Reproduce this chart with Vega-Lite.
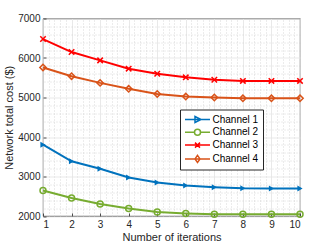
{
  "$schema": "https://vega.github.io/schema/vega-lite/v6.json",
  "width": 257,
  "height": 197.5,
  "autosize": "none",
  "padding": {"left": 43, "top": 18.5, "right": 32, "bottom": 33},
  "background": "white",
  "config": {
    "font": "Liberation Sans",
    "view": {"stroke": "#262626", "strokeWidth": 0.8},
    "axis": {
      "labelFontSize": 10,
      "labelColor": "#262626",
      "titleFontSize": 11,
      "titleFontWeight": "normal",
      "titleColor": "#262626",
      "domain": false,
      "gridColor": "#e3e3e3",
      "gridWidth": 0.8,
      "tickColor": "#262626",
      "tickWidth": 0.8
    }
  },
  "data": {
    "values": [
      {"iter": 1, "channel": "Channel 1", "cost": 3805},
      {"iter": 2, "channel": "Channel 1", "cost": 3385},
      {"iter": 3, "channel": "Channel 1", "cost": 3195},
      {"iter": 4, "channel": "Channel 1", "cost": 2975},
      {"iter": 5, "channel": "Channel 1", "cost": 2850},
      {"iter": 6, "channel": "Channel 1", "cost": 2770},
      {"iter": 7, "channel": "Channel 1", "cost": 2730},
      {"iter": 8, "channel": "Channel 1", "cost": 2700},
      {"iter": 9, "channel": "Channel 1", "cost": 2695},
      {"iter": 10, "channel": "Channel 1", "cost": 2695},
      {"iter": 1, "channel": "Channel 2", "cost": 2645},
      {"iter": 2, "channel": "Channel 2", "cost": 2455},
      {"iter": 3, "channel": "Channel 2", "cost": 2305},
      {"iter": 4, "channel": "Channel 2", "cost": 2190},
      {"iter": 5, "channel": "Channel 2", "cost": 2100},
      {"iter": 6, "channel": "Channel 2", "cost": 2065},
      {"iter": 7, "channel": "Channel 2", "cost": 2045},
      {"iter": 8, "channel": "Channel 2", "cost": 2045},
      {"iter": 9, "channel": "Channel 2", "cost": 2045},
      {"iter": 10, "channel": "Channel 2", "cost": 2045},
      {"iter": 1, "channel": "Channel 3", "cost": 6480},
      {"iter": 2, "channel": "Channel 3", "cost": 6150},
      {"iter": 3, "channel": "Channel 3", "cost": 5940},
      {"iter": 4, "channel": "Channel 3", "cost": 5730},
      {"iter": 5, "channel": "Channel 3", "cost": 5600},
      {"iter": 6, "channel": "Channel 3", "cost": 5510},
      {"iter": 7, "channel": "Channel 3", "cost": 5450},
      {"iter": 8, "channel": "Channel 3", "cost": 5420},
      {"iter": 9, "channel": "Channel 3", "cost": 5420},
      {"iter": 10, "channel": "Channel 3", "cost": 5420},
      {"iter": 1, "channel": "Channel 4", "cost": 5760},
      {"iter": 2, "channel": "Channel 4", "cost": 5540},
      {"iter": 3, "channel": "Channel 4", "cost": 5370},
      {"iter": 4, "channel": "Channel 4", "cost": 5220},
      {"iter": 5, "channel": "Channel 4", "cost": 5090},
      {"iter": 6, "channel": "Channel 4", "cost": 5025},
      {"iter": 7, "channel": "Channel 4", "cost": 5000},
      {"iter": 8, "channel": "Channel 4", "cost": 4980},
      {"iter": 9, "channel": "Channel 4", "cost": 4980},
      {"iter": 10, "channel": "Channel 4", "cost": 4980}
    ]
  },
  "layer": [
    {
      "mark": {"type": "point", "opacity": 0},
      "encoding": {
        "x": {
          "field": "iter", "type": "quantitative",
          "scale": {"domain": [1, 10], "nice": false},
          "axis": {
            "orient": "top", "title": null, "labels": false, "ticks": false, "domain": false,
            "grid": true, "gridDash": [1, 2], "gridColor": "#c8c8c8", "gridWidth": 0.7,
            "values": [1.2,1.4,1.6,1.8,2.2,2.4,2.6,2.8,3.2,3.4,3.6,3.8,4.2,4.4,4.6,4.8,5.2,5.4,5.6,5.8,6.2,6.4,6.6,6.8,7.2,7.4,7.6,7.8,8.2,8.4,8.6,8.8,9.2,9.4,9.6,9.8]
          }
        },
        "y": {
          "field": "cost", "type": "quantitative",
          "scale": {"domain": [2000, 7000], "nice": false},
          "axis": {
            "orient": "right", "title": null, "labels": false, "ticks": false, "domain": false,
            "grid": true, "gridDash": [1, 2], "gridColor": "#c8c8c8", "gridWidth": 0.7,
            "values": [2200,2400,2600,2800,3200,3400,3600,3800,4200,4400,4600,4800,5200,5400,5600,5800,6200,6400,6600,6800]
          }
        }
      }
    },
    {
      "mark": {"type": "line", "strokeWidth": 2},
      "encoding": {
        "x": {
          "field": "iter", "type": "quantitative",
          "scale": {"domain": [1, 10], "nice": false},
          "axis": {
            "orient": "bottom", "values": [1,2,3,4,5,6,7,8,9,10], "grid": true,
            "tickSize": -3, "labelPadding": 6, "title": "Number of iterations", "titlePadding": 2
          }
        },
        "y": {
          "field": "cost", "type": "quantitative",
          "scale": {"domain": [2000, 7000], "nice": false},
          "axis": {
            "orient": "left", "values": [2000,3000,4000,5000,6000,7000], "grid": true, "format": "d",
            "tickSize": -3, "labelPadding": 6, "title": "Network total cost ($)", "titlePadding": 3
          }
        },
        "color": {
          "field": "channel", "type": "nominal",
          "scale": {"domain": ["Channel 1","Channel 2","Channel 3","Channel 4"], "range": ["#0072BD","#77AC30","#FF0000","#D95319"]},
          "legend": {
            "orient": "none", "legendX": 137, "legendY": 91, "title": null,
            "padding": 4, "strokeColor": "#262626", "fillColor": "white", "cornerRadius": 0,
            "symbolSize": 100, "symbolOffset": 7.5, "labelOffset": 9, "rowPadding": 0.8,
            "labelFontSize": 10, "labelColor": "#000000", "symbolStrokeWidth": 1.5,
            "symbolFillColor": "transparent", "symbolOpacity": 1,
            "encode": {
              "symbols": {
                "update": {
                  "shape": {"signal": "datum.value === 'Channel 1' ? 'M-2.5,0L2.5,0M-0.5,-0.6L0.7,0L-0.5,0.6Z' : datum.value === 'Channel 2' ? 'M-2.5,0L-0.6,0M0.6,0L2.5,0M-0.6,0A0.6,0.6,0,1,1,0.6,0A0.6,0.6,0,1,1,-0.6,0' : datum.value === 'Channel 3' ? 'M-2.5,0L2.5,0M-0.5,-0.5L0.5,0.5M-0.5,0.5L0.5,-0.5' : 'M-2.5,0L2.5,0M0,-0.7L0.5,0L0,0.7L-0.5,0Z'"}
                }
              }
            }
          }
        }
      }
    },
    {
      "transform": [{"filter": "datum.channel === 'Channel 1'"}],
      "mark": {"type": "point", "shape": "triangle-right", "filled": true, "strokeWidth": 1, "size": 36, "opacity": 1, "color": "#0072BD"},
      "encoding": {
        "x": {"field": "iter", "type": "quantitative", "axis": null},
        "y": {"field": "cost", "type": "quantitative", "axis": null}
      }
    },
    {
      "transform": [{"filter": "datum.channel === 'Channel 2'"}],
      "mark": {"type": "point", "shape": "circle", "filled": false, "strokeWidth": 1.5, "size": 36, "opacity": 1, "color": "#77AC30"},
      "encoding": {
        "x": {"field": "iter", "type": "quantitative", "axis": null},
        "y": {"field": "cost", "type": "quantitative", "axis": null}
      }
    },
    {
      "transform": [{"filter": "datum.channel === 'Channel 3'"}],
      "mark": {"type": "point", "shape": "M-1,-1L1,1M-1,1L1,-1", "filled": false, "strokeWidth": 1.5, "size": 30, "opacity": 1, "color": "#FF0000"},
      "encoding": {
        "x": {"field": "iter", "type": "quantitative", "axis": null},
        "y": {"field": "cost", "type": "quantitative", "axis": null}
      }
    },
    {
      "transform": [{"filter": "datum.channel === 'Channel 4'"}],
      "mark": {"type": "point", "shape": "diamond", "filled": false, "strokeWidth": 1.5, "size": 40, "opacity": 1, "color": "#D95319"},
      "encoding": {
        "x": {"field": "iter", "type": "quantitative", "axis": null},
        "y": {"field": "cost", "type": "quantitative", "axis": null}
      }
    }
  ],
  "resolve": {"axis": {"x": "independent", "y": "independent"}}
}
